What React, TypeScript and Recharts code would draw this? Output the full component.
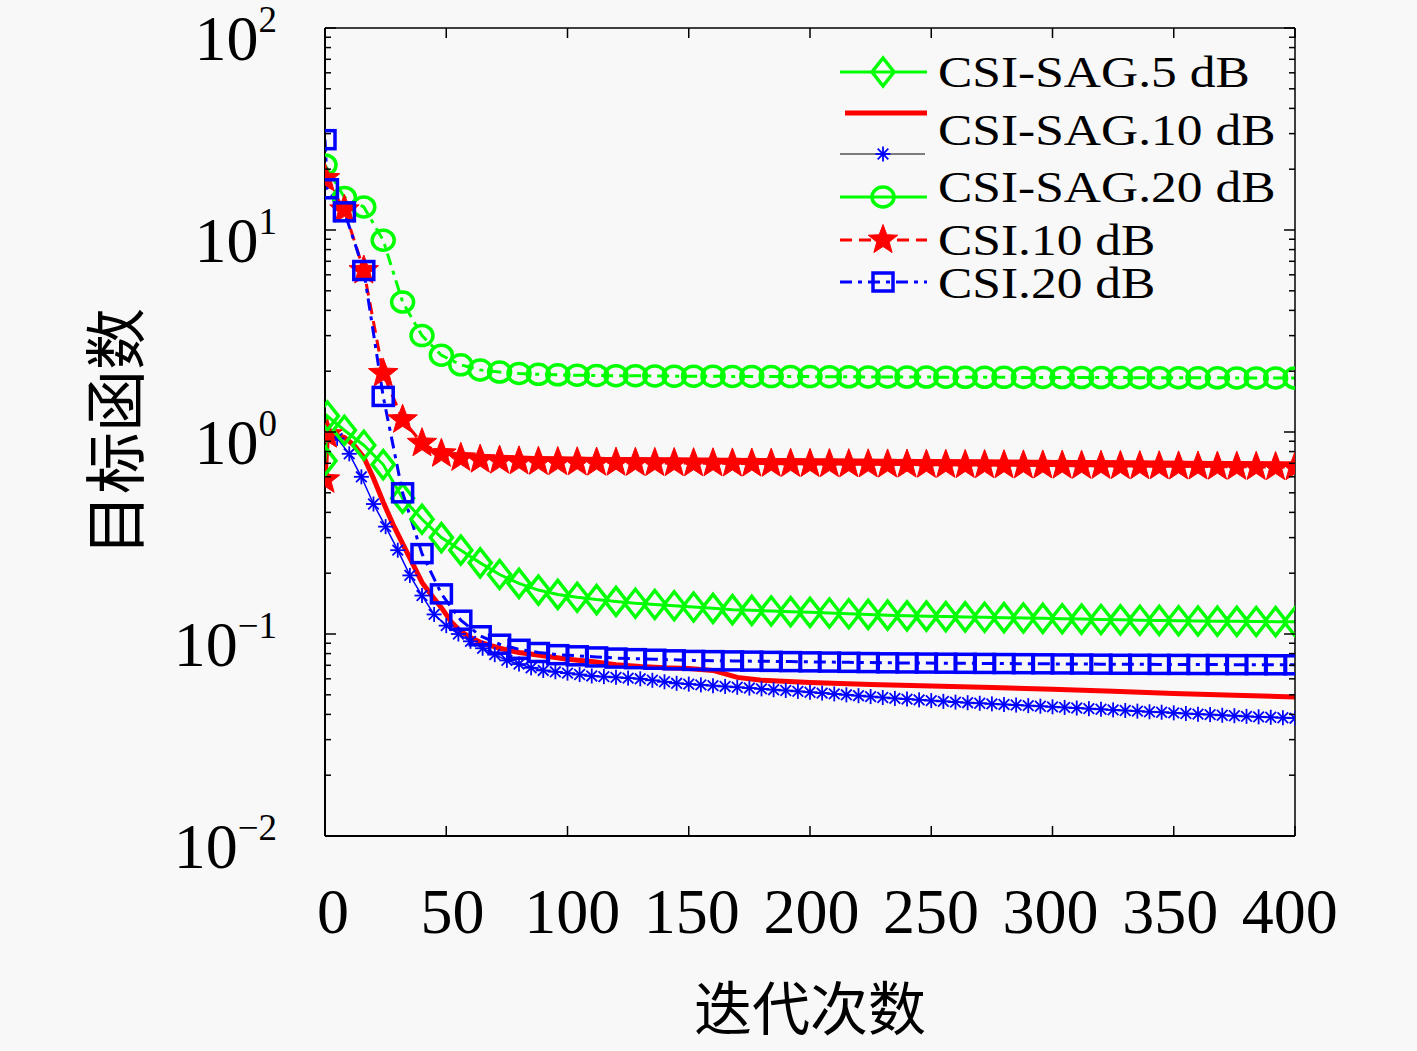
import React from 'react';
import { LineChart, Line, XAxis, YAxis, Label } from 'recharts';

// ---------- tick values ----------
const xTicks = [0, 50, 100, 150, 200, 250, 300, 350, 400];
const yTicks = [
  0.01, 0.02, 0.03, 0.04, 0.05, 0.06, 0.07, 0.08, 0.09,
  0.1, 0.2, 0.3, 0.4, 0.5, 0.6, 0.7, 0.8, 0.9,
  1, 2, 3, 4, 5, 6, 7, 8, 9,
  10, 20, 30, 40, 50, 60, 70, 80, 90,
  100,
];
const legendLabels = ['CSI-SAG.5 dB', 'CSI-SAG.10 dB', 'CSI-SAG.20 dB', 'CSI.10 dB', 'CSI.20 dB'];

// ---------- iterations ----------
const step8X = [0, 8, 16, 24, 32, 40, 48, 56, 64, 72, 80, 88, 96, 104, 112, 120, 128, 136, 144, 152, 160, 168, 176, 184, 192, 200, 208, 216, 224, 232, 240, 248, 256, 264, 272, 280, 288, 296, 304, 312, 320, 328, 336, 344, 352, 360, 368, 376, 384, 392, 400];
const step8X01 = [0, 1, 8, 16, 24, 32, 40, 48, 56, 64, 72, 80, 88, 96, 104, 112, 120, 128, 136, 144, 152, 160, 168, 176, 184, 192, 200, 208, 216, 224, 232, 240, 248, 256, 264, 272, 280, 288, 296, 304, 312, 320, 328, 336, 344, 352, 360, 368, 376, 384, 392, 400];
const redSolidX = [0, 1, 4, 8, 12, 16, 20, 24, 28, 32, 36, 40, 44, 48, 52, 56, 60, 64, 72, 80, 90, 100, 110, 120, 130, 140, 150, 160, 170, 180, 200, 225, 250, 275, 300, 325, 350, 375, 400];
const step5X = [0, 1, 5, 10, 15, 20, 25, 30, 35, 40, 45, 50, 55, 60, 65, 70, 75, 80, 85, 90, 95, 100, 105, 110, 115, 120, 125, 130, 135, 140, 145, 150, 155, 160, 165, 170, 175, 180, 185, 190, 195, 200, 205, 210, 215, 220, 225, 230, 235, 240, 245, 250, 255, 260, 265, 270, 275, 280, 285, 290, 295, 300, 305, 310, 315, 320, 325, 330, 335, 340, 345, 350, 355, 360, 365, 370, 375, 380, 385, 390, 395, 400];

// ---------- series values ----------
// CSI-SAG.5 dB (green diamonds)
const sag5Y = [0.72, 1.2, 1.02, 0.86, 0.69, 0.47, 0.37, 0.30, 0.26, 0.225, 0.197, 0.178, 0.165, 0.157, 0.152, 0.148, 0.145, 0.142, 0.14, 0.138, 0.136, 0.134, 0.132, 0.131, 0.13, 0.129, 0.128, 0.127, 0.126, 0.125, 0.124, 0.123, 0.1225, 0.122, 0.1215, 0.121, 0.1205, 0.12, 0.1195, 0.119, 0.1185, 0.118, 0.1175, 0.117, 0.1167, 0.1163, 0.116, 0.1157, 0.1155, 0.1153, 0.1151, 0.115];
// CSI-SAG.10 dB (red solid)
const sag10Y = [0.58, 0.97, 0.97, 0.94, 0.86, 0.75, 0.59, 0.45, 0.35, 0.28, 0.225, 0.18, 0.155, 0.135, 0.115, 0.103, 0.096, 0.091, 0.085, 0.081, 0.078, 0.075, 0.073, 0.0705, 0.069, 0.068, 0.0675, 0.066, 0.061, 0.059, 0.0575, 0.0562, 0.0553, 0.0543, 0.0532, 0.052, 0.0508, 0.0498, 0.0488];
// blue asterisks (thin blue)
const starLineY = [0.58, 0.97, 0.93, 0.78, 0.60, 0.44, 0.34, 0.26, 0.195, 0.155, 0.125, 0.11, 0.1, 0.092, 0.085, 0.079, 0.074, 0.071, 0.068, 0.066, 0.065, 0.064, 0.063, 0.062, 0.0615, 0.061, 0.0605, 0.060, 0.059, 0.058, 0.057, 0.0565, 0.056, 0.0555, 0.055, 0.0545, 0.054, 0.0535, 0.053, 0.0525, 0.052, 0.0515, 0.051, 0.0505, 0.050, 0.0495, 0.049, 0.0485, 0.048, 0.0476, 0.0472, 0.0468, 0.0464, 0.046, 0.0457, 0.0454, 0.0451, 0.0448, 0.0445, 0.0442, 0.0439, 0.0436, 0.0433, 0.043, 0.0427, 0.0424, 0.0421, 0.0418, 0.0415, 0.0412, 0.041, 0.0407, 0.0404, 0.0401, 0.0399, 0.0396, 0.0394, 0.0391, 0.0389, 0.0387, 0.0385, 0.0383];
// CSI-SAG.20 dB (green circles)
const sag20Y = [21, 14.5, 13.0, 8.9, 4.4, 3.0, 2.4, 2.15, 2.03, 1.98, 1.95, 1.93, 1.92, 1.91, 1.905, 1.90, 1.90, 1.895, 1.89, 1.89, 1.89, 1.885, 1.885, 1.88, 1.88, 1.88, 1.878, 1.876, 1.874, 1.872, 1.87, 1.87, 1.868, 1.866, 1.865, 1.864, 1.863, 1.862, 1.861, 1.86, 1.86, 1.859, 1.858, 1.857, 1.856, 1.855, 1.854, 1.853, 1.852, 1.851, 1.85];
// CSI.10 dB (red stars)
const csi10Y = [18, 12.6, 6.3, 1.95, 1.15, 0.88, 0.78, 0.745, 0.73, 0.722, 0.716, 0.712, 0.71, 0.708, 0.706, 0.705, 0.704, 0.703, 0.702, 0.701, 0.70, 0.699, 0.698, 0.697, 0.696, 0.695, 0.694, 0.693, 0.692, 0.691, 0.69, 0.689, 0.688, 0.687, 0.686, 0.685, 0.684, 0.683, 0.682, 0.681, 0.68, 0.679, 0.678, 0.677, 0.676, 0.675, 0.674, 0.673, 0.672, 0.671, 0.67];
// CSI.20 dB (blue squares)
const csi20Y = [28, 16, 12.3, 6.3, 1.5, 0.50, 0.25, 0.158, 0.117, 0.098, 0.089, 0.084, 0.081, 0.079, 0.078, 0.077, 0.076, 0.0755, 0.075, 0.0745, 0.074, 0.0738, 0.0736, 0.0734, 0.0732, 0.073, 0.0728, 0.0726, 0.0724, 0.0722, 0.072, 0.0719, 0.0718, 0.0717, 0.0716, 0.0715, 0.0714, 0.0713, 0.0712, 0.0711, 0.071, 0.0709, 0.0708, 0.0708, 0.0707, 0.0707, 0.0706, 0.0706, 0.0705, 0.0705, 0.0704, 0.0704];

const zip = (xs: number[], ys: number[]) => xs.map((x, i) => ({ x, v: ys[i] }));
const sag5Data = zip(step8X01, sag5Y);
const sag10Data = zip(redSolidX, sag10Y);
const starLineData = zip(step5X, starLineY);
const sag20Data = zip(step8X, sag20Y);
const csi10Data = zip(step8X, csi10Y);
const csi20Data = zip(step8X01, csi20Y);

// ---------- styles ----------
const GREEN = '#00ff00';
const RED = '#ff0000';
const BLUE = '#0000ff';
const SERIF = '"Liberation Serif", "Times New Roman", serif';
const CJK = '"Noto Sans CJK SC", sans-serif';

// ---------- marker shapes ----------
const DiamondM = ({ cx, cy }: any) => (
  <polygon points={`${cx},${cy - 14} ${cx + 11},${cy} ${cx},${cy + 14} ${cx - 11},${cy}`} fill="none" stroke={GREEN} strokeWidth={3.5} />
);
const CircleM = ({ cx, cy }: any) => (
  <ellipse cx={cx} cy={cy} rx={11} ry={10} fill="none" stroke={GREEN} strokeWidth={3.5} />
);
const starPoints = (cx: number, cy: number, R: number, r: number) => {
  const pts: string[] = [];
  for (let i = 0; i < 10; i++) {
    const a = -Math.PI / 2 + (i * Math.PI) / 5;
    const rad = i % 2 === 0 ? R : r;
    pts.push(`${cx + rad * Math.cos(a)},${cy + rad * Math.sin(a)}`);
  }
  return pts.join(' ');
};
const StarM = ({ cx, cy }: any) => (
  <polygon points={starPoints(cx, cy, 15.5, 6.5)} fill={RED} stroke={RED} strokeWidth={1} />
);
const SquareM = ({ cx, cy }: any) => (
  <rect x={cx - 10} y={cy - 9} width={20} height={18} fill="none" stroke={BLUE} strokeWidth={3.5} />
);
const AsteriskM = ({ cx, cy }: any) => {
  const r = 7.5;
  const d = r * 0.707;
  return (
    <g stroke={BLUE} strokeWidth={1.8}>
      <line x1={cx - r} y1={cy} x2={cx + r} y2={cy} />
      <line x1={cx} y1={cy - r} x2={cx} y2={cy + r} />
      <line x1={cx - d} y1={cy - d} x2={cx + d} y2={cy + d} />
      <line x1={cx - d} y1={cy + d} x2={cx + d} y2={cy - d} />
    </g>
  );
};

const dotOf = (Shape: any, name: string) => (p: any) => (
  <g key={`${name}-${p.index}`}>{p.cx != null && p.cy != null ? <Shape cx={p.cx} cy={p.cy} /> : null}</g>
);
const redSolidDot = (p: any) => (
  <g key={`rs-${p.index}`}>{p.index < 2 && p.cx != null ? <StarM cx={p.cx} cy={p.cy} /> : null}</g>
);

// ---------- ticks ----------
const isDecade = (v: number) => Math.abs(Math.log10(v) - Math.round(Math.log10(v))) < 1e-6;

const LeftTick = (props: any) => {
  const { x, y, payload } = props;
  const v = payload.value;
  const major = isDecade(v);
  const e = Math.round(Math.log10(v));
  return (
    <g>
      <line x1={x} x2={x + (major ? 11 : 6)} y1={y} y2={y} stroke="#000" strokeWidth={1.5} />
      {major && (
        <text x={x - 48} y={y + 32} textAnchor="end" fontFamily={SERIF} fontSize={64} fill="#000">
          <tspan>10</tspan>
          <tspan dy={-28} fontSize={37}>{e < 0 ? '\u2212' + -e : String(e)}</tspan>
        </text>
      )}
    </g>
  );
};
const RightTick = (props: any) => {
  const { x, y, payload } = props;
  const major = isDecade(payload.value);
  return <line x1={x} x2={x - (major ? 11 : 6)} y1={y} y2={y} stroke="#000" strokeWidth={1.5} />;
};
const BottomTick = (props: any) => {
  const { x, y, payload } = props;
  const v = payload.value;
  return (
    <g>
      <line x1={x} x2={x} y1={y} y2={y - 10} stroke="#000" strokeWidth={1.5} />
      <text x={x + 8 - v * 0.033} y={y + 97} textAnchor="middle" fontFamily={SERIF} fontSize={64} fill="#000">
        {String(v)}
      </text>
    </g>
  );
};
const TopTick = (props: any) => {
  const { x, y } = props;
  return <line x1={x} x2={x} y1={y} y2={y + 10} stroke="#000" strokeWidth={1.5} />;
};

// ---------- legend ----------
const Legend6 = () => {
  const lx1 = 840;
  const lx2 = 927;
  const mx = 883;
  const rows = [72, 113, 154, 197, 240, 282];
  const baselines = [87, 145, 202, 255, 298];
  return (
    <svg width={1417} height={1051} style={{ position: 'absolute', left: 0, top: 0, pointerEvents: 'none' }}>
      <line x1={lx1} x2={lx2} y1={rows[0]} y2={rows[0]} stroke={GREEN} strokeWidth={3} />
      <DiamondM cx={mx} cy={rows[0]} />
      <line x1={lx1 + 5} x2={lx2} y1={rows[1]} y2={rows[1]} stroke={RED} strokeWidth={5} />
      <line x1={lx1} x2={lx2 - 2} y1={rows[2]} y2={rows[2]} stroke="#000" strokeWidth={1.2} />
      <AsteriskM cx={mx} cy={rows[2]} />
      <line x1={lx1} x2={lx2} y1={rows[3]} y2={rows[3]} stroke={GREEN} strokeWidth={3} />
      <CircleM cx={mx} cy={rows[3]} />
      <line x1={lx1} x2={lx2} y1={rows[4]} y2={rows[4]} stroke={RED} strokeWidth={3} strokeDasharray="12 7" />
      <StarM cx={mx} cy={rows[4]} />
      <line x1={lx1} x2={lx2} y1={rows[5]} y2={rows[5]} stroke={BLUE} strokeWidth={3} strokeDasharray="12 6 4 6" />
      <SquareM cx={mx} cy={rows[5]} />
      {legendLabels.map((t, i) => (
        <text key={t} transform={`translate(938 ${baselines[i]}) scale(1.17 1)`} fontFamily={SERIF} fontSize={44} fill="#000">
          {t}
        </text>
      ))}
    </svg>
  );
};

export default function App() {
  return (
    <div style={{ position: 'absolute', left: 0, top: 0, width: 1417, height: 1051, background: '#f8f8f8', overflow: 'hidden' }}>
      <LineChart width={1417} height={1051} margin={{ top: 0, right: 0, bottom: 0, left: 0 }}>
        <XAxis
          xAxisId="b"
          dataKey="x"
          type="number"
          domain={[0, 400]}
          allowDataOverflow
          ticks={xTicks}
          interval={0}
          height={215}
          tickSize={0}
          tickMargin={0}
          tickLine={false}
          axisLine={{ stroke: '#000', strokeWidth: 2 }}
          tick={<BottomTick />}
        >
          <Label
            content={(p: any) => {
              const vb = p.viewBox || { x: 325, y: 836, width: 970 };
              return (
                <text x={vb.x + vb.width / 2} y={vb.y + 169} textAnchor="middle" dominantBaseline="central" fontFamily={CJK} fontSize={58} fill="#000">
                  迭代次数
                </text>
              );
            }}
          />
        </XAxis>
        <XAxis
          xAxisId="t"
          orientation="top"
          dataKey="x"
          type="number"
          domain={[0, 400]}
          allowDataOverflow
          ticks={xTicks}
          interval={0}
          height={28}
          tickSize={0}
          tickMargin={0}
          tickLine={false}
          axisLine={{ stroke: '#000', strokeWidth: 1.5 }}
          tick={<TopTick />}
        />
        <YAxis
          yAxisId="l"
          scale="log"
          type="number"
          domain={[0.01, 100]}
          allowDataOverflow
          ticks={yTicks}
          interval={0}
          width={325}
          tickSize={0}
          tickMargin={0}
          tickLine={false}
          axisLine={{ stroke: '#000', strokeWidth: 2 }}
          tick={<LeftTick />}
        >
          <Label
            content={(p: any) => {
              const vb = p.viewBox || { x: 0, y: 28, width: 325, height: 808 };
              const cx = vb.x + 112;
              const cy = vb.y + vb.height / 2;
              return (
                <text x={cx} y={cy} transform={`rotate(-90 ${cx} ${cy})`} textAnchor="middle" dominantBaseline="central" fontFamily={CJK} fontSize={62} fill="#000">
                  目标函数
                </text>
              );
            }}
          />
        </YAxis>
        <YAxis
          yAxisId="r"
          orientation="right"
          scale="log"
          type="number"
          domain={[0.01, 100]}
          allowDataOverflow
          ticks={yTicks}
          interval={0}
          width={122}
          tickSize={0}
          tickMargin={0}
          tickLine={false}
          axisLine={{ stroke: '#000', strokeWidth: 1.5 }}
          tick={<RightTick />}
        />

        <Line xAxisId="b" yAxisId="l" data={starLineData} dataKey="v" stroke={BLUE} strokeWidth={1.5} dot={dotOf(AsteriskM, 'ast')} isAnimationActive={false} />
        <Line xAxisId="b" yAxisId="l" data={sag10Data} dataKey="v" stroke={RED} strokeWidth={5} dot={redSolidDot} isAnimationActive={false} />
        <Line xAxisId="b" yAxisId="l" data={sag5Data} dataKey="v" stroke={GREEN} strokeWidth={3} dot={dotOf(DiamondM, 'dia')} isAnimationActive={false} />
        <Line xAxisId="b" yAxisId="l" data={sag20Data} dataKey="v" stroke={GREEN} strokeWidth={3} strokeDasharray="12 6 4 6" dot={dotOf(CircleM, 'cir')} isAnimationActive={false} />
        <Line xAxisId="b" yAxisId="l" data={csi10Data} dataKey="v" stroke={RED} strokeWidth={3} strokeDasharray="12 7" dot={dotOf(StarM, 'star')} isAnimationActive={false} />
        <Line xAxisId="b" yAxisId="l" data={csi20Data} dataKey="v" stroke={BLUE} strokeWidth={3} strokeDasharray="12 6 4 6" dot={dotOf(SquareM, 'sq')} isAnimationActive={false} />
      </LineChart>
      <Legend6 />
    </div>
  );
}
